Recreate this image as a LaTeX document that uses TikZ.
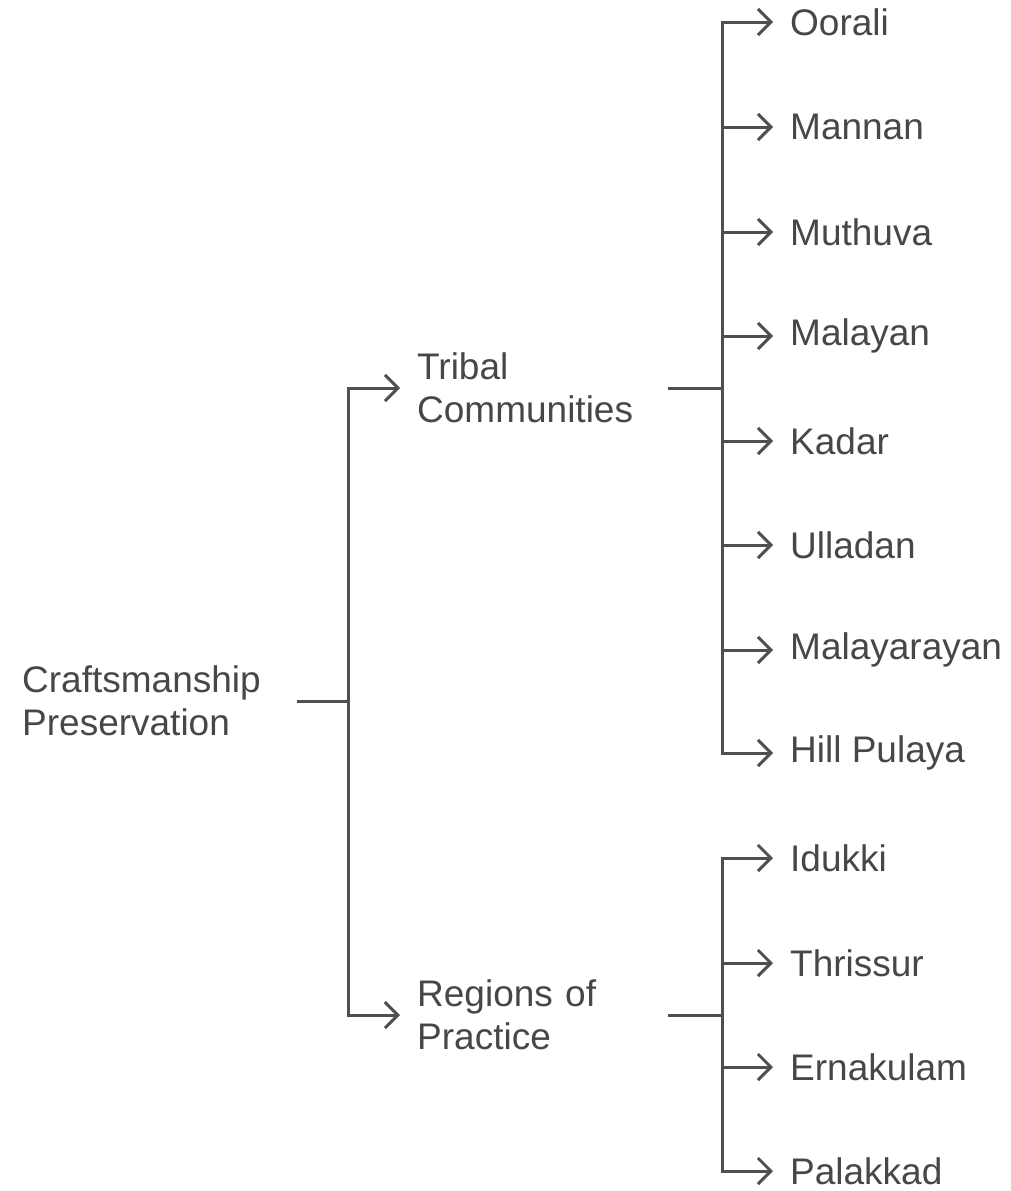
\documentclass[tikz,border=0pt]{standalone}
\usepackage{fontspec}
\setmainfont{Liberation Sans}
\usetikzlibrary{arrows.meta}
\definecolor{ink}{HTML}{4F4F4F}
\definecolor{txt}{HTML}{474747}
\tikzset{
  lbl/.style={anchor=west, inner ysep=0pt, text=txt, align=left,
    font=\fontsize{37}{43}\selectfont},
  leaf/.style={lbl, inner xsep=17pt},
  mid/.style={lbl, inner xsep=17pt, text width=234pt},
  rootbox/.style={lbl, inner xsep=0pt, text width=275pt},
  conn/.style={draw=ink, line width=3pt},
  arr/.style={conn, -{Straight Barb[length=13pt,width=26pt,line width=3pt]}}
}
\begin{document}
\begin{tikzpicture}[x=1pt,y=-1pt]
\useasboundingbox (0,0) rectangle (1010,1191);
\node[rootbox] (root) at (22,701) {Craftsmanship\\Preservation};
\node[mid] (tribal) at (400,388) {Tribal\\Communities};
\node[mid] (regions) at (400,1015) {Regions of\\Practice};
\node[leaf] (l1) at (773,22) {Oorali};
\node[leaf] (l2) at (773,127) {Mannan};
\node[leaf] (l3) at (773,232) {Muthuva};
\node[leaf] (l4) at (773,336) {Malayan};
\node[leaf] (l5) at (773,441) {Kadar};
\node[leaf] (l6) at (773,545) {Ulladan};
\node[leaf] (l7) at (773,650) {Malayarayan};
\node[leaf] (l8) at (773,753) {Hill Pulaya};
\node[leaf] (r1) at (773,858) {Idukki};
\node[leaf] (r2) at (773,963) {Thrissur};
\node[leaf] (r3) at (773,1067) {Ernakulam};
\node[leaf] (r4) at (773,1171) {Palakkad};
\coordinate (j0) at (348,701);
\coordinate (j1) at (722,388);
\coordinate (j2) at (722,1015);
\draw[conn] (root.east) -- (j0);
\draw[arr] (j0) |- (tribal.west);
\draw[arr] (j0) |- (regions.west);
\draw[conn] (tribal.east) -- (j1);
\draw[conn] (regions.east) -- (j2);
\foreach \n in {l1,l2,l3,l4,l5,l6,l7,l8} \draw[arr] (j1) |- (\n.west);
\foreach \n in {r1,r2,r3,r4} \draw[arr] (j2) |- (\n.west);
\end{tikzpicture}
\end{document}
